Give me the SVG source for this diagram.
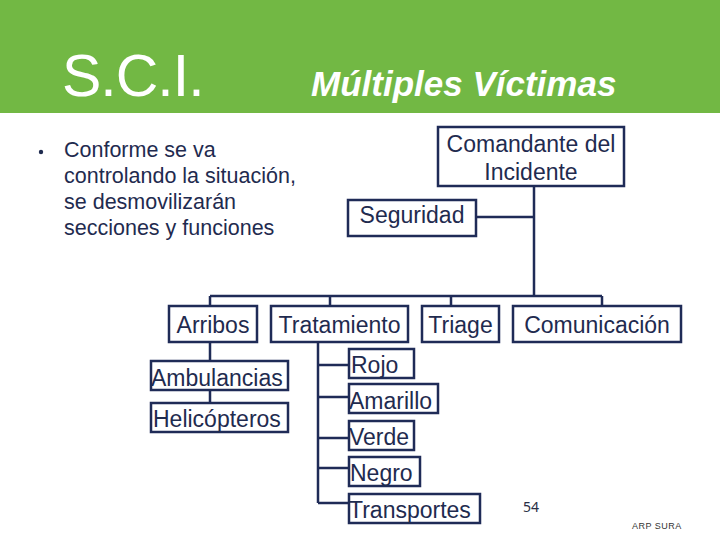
<svg xmlns="http://www.w3.org/2000/svg" width="720" height="540" viewBox="0 0 720 540">
<style>
.box{fill:#fff;stroke:#1f2b57;stroke-width:2.5}
.t{font-family:"Liberation Sans",Arial,sans-serif;font-size:23px;fill:#1f2b4f}
.c{text-anchor:middle}
.ln{fill:none;stroke:#1f2b57;stroke-width:2.5}
</style>
<rect x="0" y="0" width="720" height="540" fill="#fff"/>
<rect x="0" y="0" width="720" height="113" fill="#72b844"/>
<text x="62" y="96" font-family="'Liberation Sans',Arial,sans-serif" font-size="59" letter-spacing="-1" fill="#fff">S.C.I.</text>
<text x="311" y="96" font-family="'Liberation Sans',Arial,sans-serif" font-size="35" font-weight="bold" font-style="italic" fill="#fff">Múltiples Víctimas</text>
<g id="bullet" font-family="'Liberation Sans',Arial,sans-serif" font-size="21.5" fill="#1f2b4f">
<circle cx="41" cy="152" r="2.2" fill="#1f2b4f"/>
<text x="64" y="157">Conforme se va</text>
<text x="64" y="183">controlando la situación,</text>
<text x="64" y="209">se desmovilizarán</text>
<text x="64" y="235">secciones y funciones</text>
</g>
<g id="connectors" class="ln">
<path d="M534 186V296"/>
<path d="M476 217H534"/>
<path d="M210 296H602"/>
<path d="M210 296V306M330 296V306M451 296V306M602 296V306"/>
<path d="M210 342V361M210 390V403"/>
<path d="M318 342V503"/>
<path d="M318 365H349M318 397H349M318 438H349M318 468H349M318 503H349"/>
</g>
<g id="comandante"><rect class="box" x="438" y="127" width="186" height="59"/><text class="t c" x="531" y="152">Comandante del</text><text class="t c" x="531" y="180">Incidente</text></g>
<g id="seguridad"><rect class="box" x="348" y="200" width="128" height="36"/><text class="t c" x="412" y="223">Seguridad</text></g>
<g id="arribos"><rect class="box" x="169" y="306" width="88" height="36"/><text class="t c" x="213" y="333">Arribos</text></g>
<g id="tratamiento"><rect class="box" x="271" y="306" width="137" height="36"/><text class="t c" x="339.5" y="333">Tratamiento</text></g>
<g id="triage"><rect class="box" x="422" y="306" width="77" height="36"/><text class="t c" x="460.5" y="333">Triage</text></g>
<g id="comunicacion"><rect class="box" x="513" y="306" width="168" height="36"/><text class="t c" x="597" y="333">Comunicación</text></g>
<g id="ambulancias"><rect class="box" x="151" y="361" width="137" height="29"/><text class="t" x="151" y="386">Ambulancias</text></g>
<g id="helicopteros"><rect class="box" x="151" y="403" width="137" height="29"/><text class="t" x="153" y="427">Helicópteros</text></g>
<g id="rojo"><rect class="box" x="349" y="349" width="65" height="29"/><text class="t" x="351" y="373">Rojo</text></g>
<g id="amarillo"><rect class="box" x="349" y="384" width="89" height="29"/><text class="t" x="349" y="409">Amarillo</text></g>
<g id="verde"><rect class="box" x="349" y="421" width="65" height="29"/><text class="t" x="349" y="445">Verde</text></g>
<g id="negro"><rect class="box" x="349" y="457" width="71" height="29"/><text class="t" x="350" y="481">Negro</text></g>
<g id="transportes"><rect class="box" x="349" y="494" width="131" height="29"/><text class="t" x="349" y="518">Transportes</text></g>
<text x="523" y="512" font-family="'Noto Sans',sans-serif" font-size="14" fill="#2a2f45">54</text>
<text x="632" y="529" font-family="'Liberation Sans',Arial,sans-serif" font-size="9" letter-spacing="0.5" fill="#333">ARP SURA</text>
</svg>
